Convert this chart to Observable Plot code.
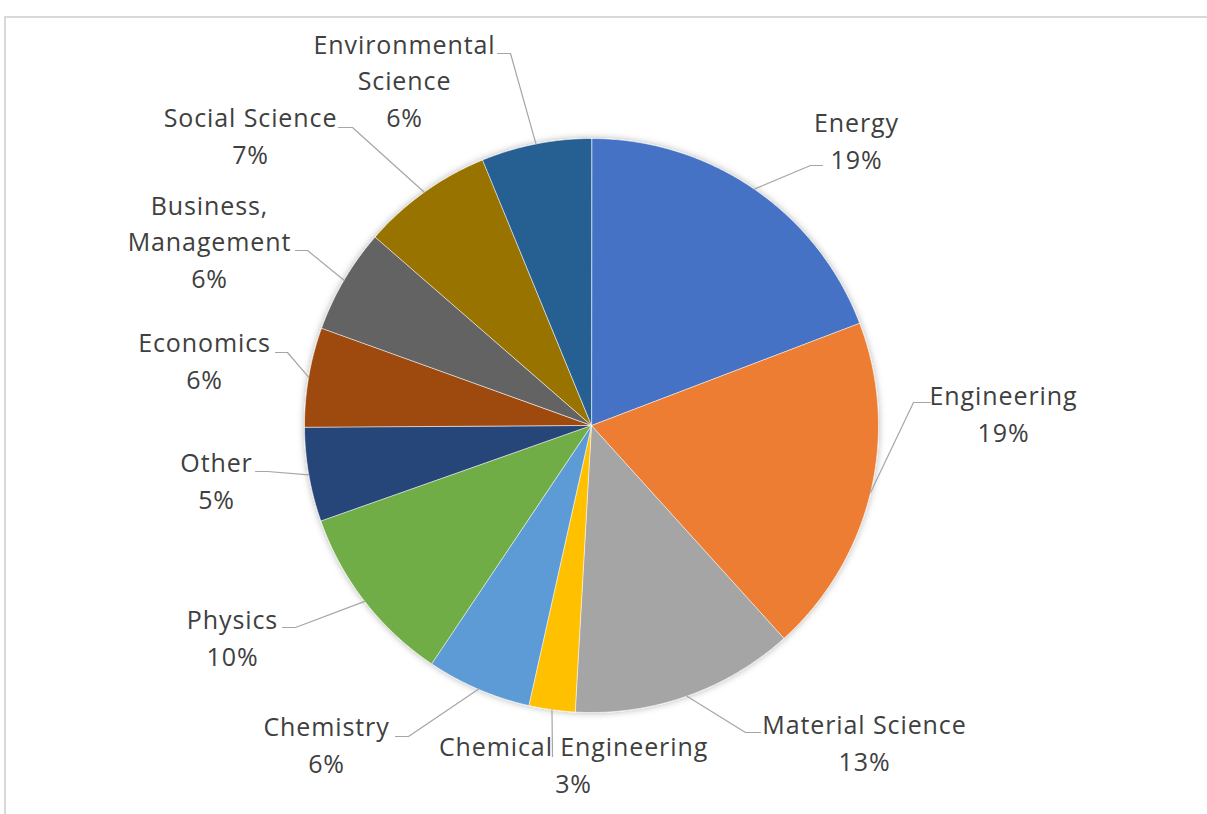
<!DOCTYPE html>
<html>
<head>
<meta charset="utf-8">
<script src="https://cdn.jsdelivr.net/npm/d3@7"></script>
<script src="https://cdn.jsdelivr.net/npm/@observablehq/plot@0.6"></script>
<style>
  html, body { margin: 0; padding: 0; background: #fff; overflow: hidden; }
  #chart { position: absolute; left: 0; top: 0; }
  #frame { position: absolute; left: 4px; top: 16px; width: 1300px; height: 900px;
           border-top: 2px solid #d9d9d9; border-left: 2px solid #d9d9d9; pointer-events: none; }
</style>
</head>
<body>
<div id="chart"></div>
<div id="frame"></div>
<script>
// ---- data ----
const categories = ["Energy", "Engineering", "Material Science", "Chemical Engineering", "Chemistry",
  "Physics", "Other", "Economics", "Business, Management", "Social Science", "Environmental Science"];
const labelNames = ["Energy", "Engineering", "Material Science", "Chemical Engineering", "Chemistry",
  "Physics", "Other", "Economics", "Business,\nManagement", "Social Science", "Environmental\nScience"];
const shares = [19.2, 19.1, 12.6, 2.6, 5.9, 10.2, 5.3, 5.6, 5.9, 7.4, 6.2];
const colors = ["#4472C4", "#ED7D31", "#A5A5A5", "#FFC000", "#5B9BD5", "#70AD47",
  "#264478", "#9E480E", "#636363", "#997300", "#255E91"];

// ---- layout (label placement: text block centre, text end point, elbow) ----
const labelLayout = {
  "Energy":                {x: 856,  y: 141.5, ex: 822, ey: 165, bx: 810, by: 165},
  "Engineering":           {x: 1003, y: 414.5, ex: 930, ey: 402, bx: 913, by: 402},
  "Material Science":      {x: 864,  y: 743.5, ex: 760, ey: 732, bx: 745, by: 732},
  "Chemical Engineering":  {x: 573,  y: 765.5, ex: null, ey: null, bx: 552, by: 756},
  "Chemistry":             {x: 326,  y: 745.5, ex: 395, ey: 736, bx: 408, by: 736},
  "Physics":               {x: 232,  y: 638.5, ex: 282, ey: 627, bx: 295, by: 627},
  "Other":                 {x: 216,  y: 481.5, ex: 255, ey: 471, bx: 267, by: 471},
  "Economics":             {x: 204,  y: 361.5, ex: 275, ey: 352, bx: 287, by: 352},
  "Business, Management":  {x: 209,  y: 242,   ex: 295, ey: 250, bx: 307, by: 250},
  "Social Science":        {x: 250,  y: 136.5, ex: 338, ey: 127, bx: 352, by: 127},
  "Environmental Science": {x: 404,  y: 81,    ex: 497, ey: 53,  bx: 510, by: 53}
};
const textShiftY = -3;

const W = 1207, H = 814;
const cx = 591, cy = 425, R = 287;

const total = d3.sum(shares);
const arcs = d3.pie().sort(null).value(d => d)(shares);
const polar = (a, r) => ({x: cx + r * Math.sin(a), y: cy - r * Math.cos(a)});

// slice polygons
const slicePts = [];
arcs.forEach((a, i) => {
  const name = categories[i];
  slicePts.push({name, color: colors[i], x: cx, y: cy});
  const n = Math.max(2, Math.ceil((a.endAngle - a.startAngle) / (Math.PI / 360)));
  for (let k = 0; k <= n; k++) {
    const t = a.startAngle + (a.endAngle - a.startAngle) * k / n;
    slicePts.push({name, color: colors[i], ...polar(t, R)});
  }
});

// leader lines
const leaderPts = [];
arcs.forEach((a, i) => {
  const name = categories[i];
  const L = labelLayout[name];
  const mid = (a.startAngle + a.endAngle) / 2;
  if (L.ex != null) leaderPts.push({name, x: L.ex, y: L.ey});
  leaderPts.push({name, x: L.bx, y: L.by});
  leaderPts.push({name, ...polar(mid, R)});
});

// labels
const labels = categories.map((name, i) => ({
  name,
  text: labelNames[i] + "\n" + Math.round(shares[i] / total * 100) + "%",
  x: labelLayout[name].x,
  y: labelLayout[name].y + textShiftY
}));

const chart = Plot.plot({
  width: W,
  height: H,
  margin: 0,
  x: {domain: [0, W], range: [0, W], axis: null},
  y: {domain: [0, H], range: [0, H], axis: null},
  color: {type: "identity"},
  style: {fontFamily: "'Open Sans', sans-serif", background: "transparent"},
  marks: [
    Plot.line(slicePts, {x: "x", y: "y", z: "name", fill: "color", stroke: "#ffffff",
      strokeWidth: 0.6, curve: "linear-closed", ariaDescription: "pie"}),
    Plot.line(leaderPts, {x: "x", y: "y", z: "name", stroke: "#a6a6a6", strokeWidth: 1.2}),
    Plot.text(labels, {x: "x", y: "y", text: "text", textAnchor: "middle", lineAnchor: "middle",
      lineHeight: 1.46, fontSize: 25, fill: "#404040", ariaDescription: "labels"})
  ]
});

// soft shadow around the pie, label letter spacing
const svg = d3.select(chart);
const defs = svg.insert("defs", ":first-child");
const f = defs.append("filter").attr("id", "pieShadow")
  .attr("x", "-10%").attr("y", "-10%").attr("width", "120%").attr("height", "120%");
f.append("feDropShadow").attr("dx", 0).attr("dy", 0).attr("stdDeviation", 3.5)
  .attr("flood-color", "#000").attr("flood-opacity", 0.3);
svg.select('g[aria-description="pie"]').attr("filter", "url(#pieShadow)");
svg.select('g[aria-description="labels"]').attr("letter-spacing", "0.9px");

document.getElementById("chart").appendChild(chart);
</script>
</body>
</html>
